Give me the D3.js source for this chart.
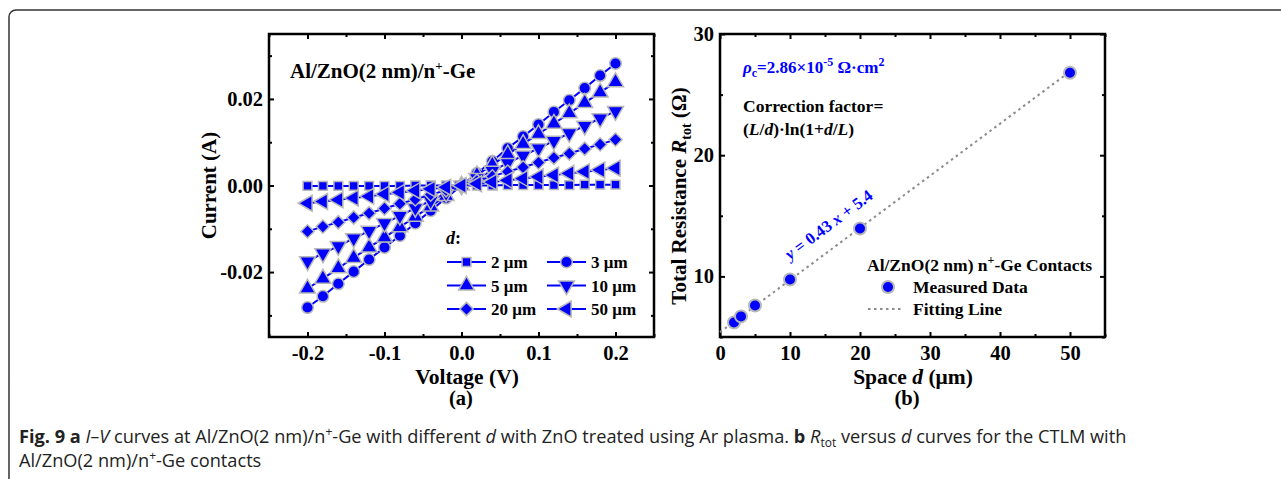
<!DOCTYPE html>
<html>
<head>
<meta charset="utf-8">
<script src="https://cdn.jsdelivr.net/npm/d3@7"></script>
<style>
  body { margin: 0; background: #fff; }
  svg { display: block; }
  .serif { font-family: "Liberation Serif", "Times New Roman", serif; font-weight: bold; }
  .cap { font-family: "Open Sans", "Noto Sans", sans-serif; }
</style>
</head>
<body>
<div id="chart"></div>
<script>
// ---- data: panel (a) I-V curves ----
const voltages = [-0.2, -0.18, -0.16, -0.14, -0.12, -0.1, -0.08, -0.06, -0.04, -0.02, 0,
                  0.02, 0.04, 0.06, 0.08, 0.1, 0.12, 0.14, 0.16, 0.18, 0.2];
const seriesNames = ["2 μm", "3 μm", "5 μm", "10 μm", "20 μm", "50 μm"];
const cur2 = [-0.0001, -0.0001, -0.0001, -0.0001, -0.0001, -0.0001, -0.0001, 0, 0, 0, 0,
              0, 0, 0.0001, 0.0001, 0.0001, 0.0001, 0.0001, 0.0002, 0.0002, 0.0002];
const cur3 = [-0.0282, -0.0256, -0.0227, -0.0199, -0.0171, -0.0143, -0.0116, -0.0087, -0.0058, -0.0029, 0,
              0.0028, 0.0056, 0.0086, 0.0113, 0.0141, 0.0170, 0.0197, 0.0225, 0.0254, 0.0282];
const cur5 = [-0.0238, -0.0215, -0.0191, -0.0167, -0.0143, -0.0120, -0.0096, -0.0072, -0.0048, -0.0024, 0,
              0.0024, 0.0048, 0.0072, 0.0096, 0.0119, 0.0143, 0.0167, 0.0191, 0.0215, 0.0239];
const cur10 = [-0.0175, -0.0157, -0.0140, -0.0122, -0.0105, -0.0087, -0.0070, -0.0052, -0.0035, -0.0017, 0,
               0.0017, 0.0034, 0.0052, 0.0069, 0.0086, 0.0103, 0.0121, 0.0138, 0.0155, 0.0172];
const cur20 = [-0.0106, -0.0095, -0.0085, -0.0074, -0.0064, -0.0053, -0.0042, -0.0032, -0.0021, -0.0011, 0,
               0.0011, 0.0021, 0.0032, 0.0042, 0.0053, 0.0064, 0.0074, 0.0085, 0.0095, 0.0106];
const cur50 = [-0.0041, -0.0037, -0.0033, -0.0029, -0.0025, -0.0020, -0.0016, -0.0012, -0.0008, -0.0004, 0,
               0.0004, 0.0008, 0.0012, 0.0016, 0.0020, 0.0024, 0.0028, 0.0032, 0.0036, 0.0040];
const voltTicks = [-0.2, -0.1, 0.0, 0.1, 0.2];
const currentTicks = [-0.02, 0.00, 0.02];

// ---- data: panel (b) R_tot vs d ----
const spacings = [2, 3, 5, 10, 20, 50];
const resistances = [6.2, 6.7, 7.6, 9.75, 13.95, 26.8];
const fitSlope = 0.43;
const fitIntercept = 5.4;
const fitRange = [0, 50];
const spaceTicks = [0, 10, 20, 30, 40, 50];
const resTicks = [10, 20, 30];

const W = 1281, H = 479;
const blue = "#0000ff", edge = "#b8b8b8";

const svg = d3.select("#chart").append("svg")
    .attr("width", W).attr("height", H);

// outer rounded box of the figure
svg.append("rect")
    .attr("x", 9).attr("y", 10)
    .attr("width", W + 20).attr("height", H + 20)
    .attr("rx", 7)
    .attr("fill", "none").attr("stroke", "#333").attr("stroke-width", 1.5);

const fmt = d => d3.format(".2f")(d).replace("−", "-");
const fmt1 = d => d3.format(".1f")(d).replace("−", "-");

// draws a boxed frame with inward ticks on all sides
function drawFrame(g, x, y, xMajor, xMinor, yMajor, yMinor, xFmt, yFmt) {
    let w = x.range()[1] - x.range()[0];
    let h = y.range()[0] - y.range()[1];

    let addAxis = (axis, tr, labels) => {
        let a = g.append("g").attr("transform", tr).call(axis);
        a.select(".domain").remove();
        a.selectAll("line").attr("stroke", "#000").attr("stroke-width", 2);
        if (!labels) a.selectAll("text").remove();
        else a.selectAll("text").attr("class", "serif").attr("font-size", 20.5).attr("fill", "#000");
        return a;
    };

    addAxis(d3.axisBottom(x).tickValues(xMajor).tickFormat(xFmt).tickSizeInner(-5).tickSizeOuter(0).tickPadding(8),
        `translate(0,${h})`, true);
    addAxis(d3.axisBottom(x).tickValues(xMinor).tickSizeInner(-3).tickSizeOuter(0), `translate(0,${h})`, false);
    addAxis(d3.axisTop(x).tickValues(xMajor).tickSizeInner(-5).tickSizeOuter(0), "translate(0,0)", false);
    addAxis(d3.axisTop(x).tickValues(xMinor).tickSizeInner(-3).tickSizeOuter(0), "translate(0,0)", false);
    addAxis(d3.axisLeft(y).tickValues(yMajor).tickFormat(yFmt).tickSizeInner(-5).tickSizeOuter(0).tickPadding(6),
        "translate(0,0)", true);
    addAxis(d3.axisLeft(y).tickValues(yMinor).tickSizeInner(-3).tickSizeOuter(0), "translate(0,0)", false);
    addAxis(d3.axisRight(y).tickValues(yMajor).tickSizeInner(-5).tickSizeOuter(0), `translate(${w},0)`, false);
    addAxis(d3.axisRight(y).tickValues(yMinor).tickSizeInner(-3).tickSizeOuter(0), `translate(${w},0)`, false);

    g.append("rect")
        .attr("width", w).attr("height", h)
        .attr("fill", "none").attr("stroke", "#000").attr("stroke-width", 2.5);
}

// ================= panel (a) =================
const a = { left: 269, top: 34, right: 654, bottom: 337 };
const gA = svg.append("g").attr("transform", `translate(${a.left},${a.top})`);
const xA = d3.scaleLinear().domain([-0.25, 0.25]).range([0, a.right - a.left]);
const yA = d3.scaleLinear().domain([-0.035, 0.035]).range([a.bottom - a.top, 0]);

drawFrame(gA, xA, yA, voltTicks, [-0.25, -0.15, -0.05, 0.05, 0.15, 0.25],
    currentTicks, [-0.03, -0.01, 0.01, 0.03], fmt1, fmt);

// marker shapes: [symbol type, size, rotation]
const markers = [
    [d3.symbolSquare, 78, 0],
    [d3.symbolCircle, 105, 0],
    [d3.symbolTriangle, 110, 0],
    [d3.symbolTriangle, 110, 180],
    [d3.symbolSquare, 88, 45],
    [d3.symbolTriangle, 110, -90]
];
const currents = [cur2, cur3, cur5, cur10, cur20, cur50];

const lineA = d3.line().x(d => xA(d[0])).y(d => yA(d[1]));

currents.forEach((c, i) => {
    let pts = voltages.map((v, j) => [v, c[j]]);
    let sg = gA.append("g");
    sg.append("path")
        .attr("d", lineA(pts))
        .attr("fill", "none").attr("stroke", blue).attr("stroke-width", 2);
    let m = markers[i];
    sg.selectAll("path.pt").data(pts).enter().append("path")
        .attr("class", "pt")
        .attr("d", d3.symbol().type(m[0]).size(m[1]))
        .attr("transform", d => `translate(${xA(d[0])},${yA(d[1])}) rotate(${m[2]})`)
        .attr("fill", blue).attr("stroke", edge).attr("stroke-width", 1.5);
});

// panel (a) title
let tA = svg.append("text").attr("class", "serif").attr("font-size", 21)
    .attr("x", 290).attr("y", 78);
tA.append("tspan").text("Al/ZnO(2 nm)/n");
tA.append("tspan").attr("dy", -8).attr("font-size", 13).text("+");
tA.append("tspan").attr("dy", 8).text("-Ge");

// panel (a) legend
svg.append("text").attr("class", "serif").attr("font-size", 18)
    .attr("x", 446).attr("y", 244)
    .call(t => { t.append("tspan").attr("font-style", "italic").text("d"); t.append("tspan").text(":"); });

seriesNames.forEach((name, i) => {
    let col = i % 2, row = Math.floor(i / 2);
    let lx = col === 0 ? 447 : 547;
    let ly = 262 + row * 23.5;
    let lg = svg.append("g");
    lg.append("line").attr("x1", lx).attr("x2", lx + 39).attr("y1", ly).attr("y2", ly)
        .attr("stroke", blue).attr("stroke-width", 2);
    let m = markers[i];
    lg.append("path")
        .attr("d", d3.symbol().type(m[0]).size(m[1]))
        .attr("transform", `translate(${lx + 19.5},${ly}) rotate(${m[2]})`)
        .attr("fill", blue).attr("stroke", edge).attr("stroke-width", 1.5);
    lg.append("text").attr("class", "serif").attr("font-size", 17)
        .attr("x", lx + 44).attr("y", ly + 6).text(name);
});

// panel (a) axis titles
svg.append("text").attr("class", "serif").attr("font-size", 21)
    .attr("text-anchor", "middle")
    .attr("transform", `translate(216,${(a.top + a.bottom) / 2}) rotate(-90)`)
    .text("Current (A)");
svg.append("text").attr("class", "serif").attr("font-size", 21.5)
    .attr("text-anchor", "middle").attr("x", 467).attr("y", 384).text("Voltage (V)");
svg.append("text").attr("class", "serif").attr("font-size", 20.5)
    .attr("text-anchor", "middle").attr("x", 461).attr("y", 405).text("(a)");

// ================= panel (b) =================
const b = { left: 720, top: 34, right: 1105, bottom: 337 };
const gB = svg.append("g").attr("transform", `translate(${b.left},${b.top})`);
const xB = d3.scaleLinear().domain([0, 55]).range([0, b.right - b.left]);
const yB = d3.scaleLinear().domain([5, 30]).range([b.bottom - b.top, 0]);

drawFrame(gB, xB, yB, spaceTicks, [5, 15, 25, 35, 45, 55],
    resTicks, [5, 15, 25], d3.format("d"), d3.format("d"));

// fitting line
const fitPts = fitRange.map(d => [d, fitSlope * d + fitIntercept]);
gB.append("path")
    .attr("d", d3.line().x(d => xB(d[0])).y(d => yB(d[1]))(fitPts))
    .attr("fill", "none").attr("stroke", "#8c8c8c").attr("stroke-width", 2)
    .attr("stroke-dasharray", "2.5,3.5");

// measured points
gB.selectAll("circle.pt").data(spacings).enter().append("circle")
    .attr("class", "pt")
    .attr("cx", d => xB(d))
    .attr("cy", (d, i) => yB(resistances[i]))
    .attr("r", 6)
    .attr("fill", blue).attr("stroke", edge).attr("stroke-width", 2);

// fit equation rotated along the line
const ang = Math.atan2(yB(fitSlope * 10 + fitIntercept) - yB(fitIntercept), xB(10) - xB(0)) * 180 / Math.PI;
const eqX = 11.3;
let eq = gB.append("text").attr("class", "serif").attr("font-size", 16.5).attr("fill", blue)
    .attr("transform", `translate(${xB(eqX) - 9},${yB(fitSlope * eqX + fitIntercept) - 13}) rotate(${ang})`);
eq.append("tspan").attr("font-style", "italic").text("y");
eq.append("tspan").text(" = 0.43 ");
eq.append("tspan").attr("font-style", "italic").text("x");
eq.append("tspan").text(" + 5.4");

// rho_c annotation
let rho = svg.append("text").attr("class", "serif").attr("font-size", 17).attr("fill", blue)
    .attr("x", 743).attr("y", 73);
rho.append("tspan").attr("font-style", "italic").text("ρ");
rho.append("tspan").attr("dy", 4).attr("font-size", 12).text("c");
rho.append("tspan").attr("dy", -4).text("=2.86×10");
rho.append("tspan").attr("dy", -7).attr("font-size", 12).text("-5");
rho.append("tspan").attr("dy", 7).text(" Ω·cm");
rho.append("tspan").attr("dy", -7).attr("font-size", 12).text("2");

svg.append("text").attr("class", "serif").attr("font-size", 17.5)
    .attr("x", 743).attr("y", 112).text("Correction factor=");
let cf = svg.append("text").attr("class", "serif").attr("font-size", 17.5)
    .attr("x", 743).attr("y", 135);
[["(", 0], ["L", 1], ["/", 0], ["d", 1], [")·ln(1+", 0], ["d", 1], ["/", 0], ["L", 1], [")", 0]]
    .forEach(p => cf.append("tspan").attr("font-style", p[1] ? "italic" : "normal").text(p[0]));

// panel (b) legend
let lt = svg.append("text").attr("class", "serif").attr("font-size", 17.5)
    .attr("x", 867).attr("y", 271);
lt.append("tspan").text("Al/ZnO(2 nm) n");
lt.append("tspan").attr("dy", -7).attr("font-size", 12).text("+");
lt.append("tspan").attr("dy", 7).text("-Ge Contacts");
svg.append("circle").attr("cx", 888).attr("cy", 287).attr("r", 6)
    .attr("fill", blue).attr("stroke", edge).attr("stroke-width", 2);
svg.append("text").attr("class", "serif").attr("font-size", 17.5)
    .attr("x", 913).attr("y", 293).text("Measured Data");
svg.append("line").attr("x1", 868).attr("x2", 904).attr("y1", 309).attr("y2", 309)
    .attr("stroke", "#8c8c8c").attr("stroke-width", 2).attr("stroke-dasharray", "2.5,3.5");
svg.append("text").attr("class", "serif").attr("font-size", 17.5)
    .attr("x", 913).attr("y", 315).text("Fitting Line");

// panel (b) axis titles
let yt = svg.append("text").attr("class", "serif").attr("font-size", 21)
    .attr("text-anchor", "middle")
    .attr("transform", `translate(686,196) rotate(-90)`);
yt.append("tspan").text("Total Resistance ");
yt.append("tspan").attr("font-style", "italic").text("R");
yt.append("tspan").attr("dy", 5).attr("font-size", 14).text("tot");
yt.append("tspan").attr("dy", -5).text(" (Ω)");

let xt = svg.append("text").attr("class", "serif").attr("font-size", 21.5)
    .attr("text-anchor", "middle").attr("x", 913).attr("y", 384);
xt.append("tspan").text("Space ");
xt.append("tspan").attr("font-style", "italic").text("d");
xt.append("tspan").text(" (μm)");
svg.append("text").attr("class", "serif").attr("font-size", 20.5)
    .attr("text-anchor", "middle").attr("x", 907).attr("y", 405).text("(b)");

// ================= caption =================
const capParts = [
    ["Fig. 9 a", "b"], [" ", ""], ["I–V", "i"], [" curves at Al/ZnO(2 nm)/n", ""], ["+", "sup"],
    ["-Ge with different ", ""], ["d", "i"], [" with ZnO treated using Ar plasma. ", ""],
    ["b", "b"], [" ", ""], ["R", "i"], ["tot", "sub"], [" versus ", ""], ["d", "i"],
    [" curves for the CTLM with", ""]
];
const capParts2 = [["Al/ZnO(2 nm)/n", ""], ["+", "sup"], ["-Ge contacts", ""]];

function caption(parts, y) {
    let t = svg.append("text").attr("class", "cap").attr("font-size", 18.2).attr("fill", "#222")
        .attr("x", 19).attr("y", y);
    let shift = 0;
    parts.forEach(p => {
        let s = t.append("tspan").text(p[0]);
        if (p[1] === "b") s.attr("font-weight", "bold");
        if (p[1] === "i") s.attr("font-style", "italic");
        let target = p[1] === "sup" ? -7 : p[1] === "sub" ? 4 : 0;
        if (target !== shift) { s.attr("dy", target - shift); shift = target; }
        if (p[1] === "sup" || p[1] === "sub") s.attr("font-size", 12);
    });
    return t;
}
caption(capParts, 443);
caption(capParts2, 467);
</script>
</body>
</html>
